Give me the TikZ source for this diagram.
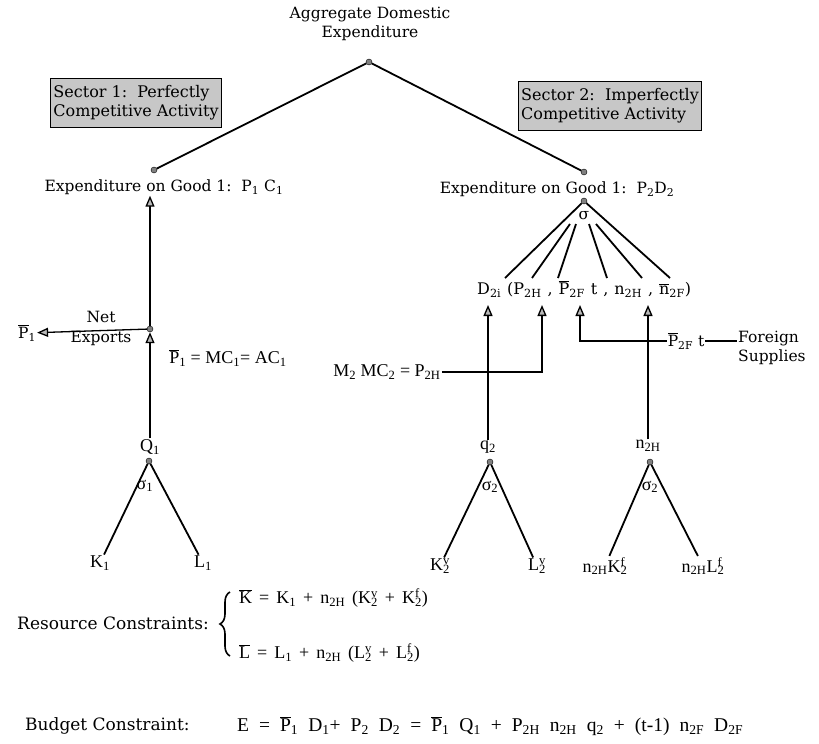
\documentclass[tikz,border=0pt]{standalone}
\usepackage{fontspec}
\setmainfont{DejaVu Serif}
\newfontfamily\narrowfont{Liberation Serif}
\usetikzlibrary{arrows.meta,decorations.pathreplacing}
\newcommand{\ob}[1]{$\overline{\hbox{#1}}$}
\newcommand{\sd}[1]{\textsubscript{#1}}
\newcommand{\su}[2]{\rlap{\textsuperscript{#2}}\textsubscript{#1}}
\tikzset{
    txt/.style={inner sep=1pt, font=\fontsize{15.5}{19}\selectfont},
    big/.style={inner sep=1pt, font=\fontsize{17}{20}\selectfont},
    eq/.style={inner sep=1pt, font=\narrowfont\fontsize{18}{21}\selectfont},
    wordgap/.style={execute at begin node={\spaceskip=#1\relax}},
    dot/.style={circle, draw, fill=gray, inner sep=0pt, minimum size=6pt},
    sector/.style={draw, line width=1.2pt, fill=black!22, align=left, inner xsep=3pt, inner ysep=7pt, font=\fontsize{16}{19}\selectfont},
    branch/.style={line width=1.8pt},
    link/.style={line width=1.3pt},
    tip/.style={link, -{Triangle[width=9pt,length=11pt,fill=gray!55]}},
    curly/.style={decorate, decoration={brace, amplitude=10pt}, line width=1.6pt},
}
\begin{document}
\begin{tikzpicture}[x=1pt,y=-1pt]
    \useasboundingbox (0,0) rectangle (819,744);
    \node [txt, align=center] (agg) at (370,24) {Aggregate Domestic\\Expenditure};
    \node [dot] (top) at (369,62) {};
    \node [sector] (sec1) at (136,103) {Sector 1:\ \ Perfectly\\Competitive Activity};
    \node [sector] (sec2) at (610,106) {Sector 2:\ \ Imperfectly\\Competitive Activity};
    \node [dot] (g1) at (154,170) {};
    \node [dot] (g2) at (584,172) {};
    \draw [branch] (top) -- (g1);
    \draw [branch] (top) -- (g2);
    \node [txt] (exp1) at (164,187) {Expenditure on Good 1:\ \ P\sd{1} C\sd{1}};
    \node [txt] (exp2) at (557,189) {Expenditure on Good 1:\ \ P\sd{2}D\sd{2}};
    \node [dot] (fan) at (584,201) {};
    \node [txt] (sig) at (584,216) {σ};
    \node [txt, wordgap=6pt, anchor=west, font=\fontsize{16}{19}\selectfont] (dem) at (476,289) {D\sd{2i} (P\sd{2H} , \ob{P}\sd{2F} t , n\sd{2H} , \ob{n}\sd{2F})};
    \coordinate (f1) at (505,278);
    \coordinate (f6) at (670,278);
    \draw [branch] (fan) -- (f1);
    \draw [branch] (fan) -- (f6);
    \foreach \i/\a/\b in {2/570/532, 3/576/558, 4/589/607, 5/596/642} {
        \coordinate (fs\i) at (\a,224);
        \coordinate (fe\i) at (\b,278);
        \draw [branch] (fs\i) -- (fe\i);
    }
    \node [eq] (q1) at (150,447) {Q\sd{1}};
    \node [dot] (t1) at (149,461) {};
    \node [eq] (s1) at (145,486) {σ\sd{1}};
    \node [eq] (k1) at (100,563) {K\sd{1}};
    \node [eq] (l1) at (203,563) {L\sd{1}};
    \draw [branch] (t1) -- (k1);
    \draw [branch] (t1) -- (l1);
    \node [eq] (q2) at (488,447) {q\sd{2}};
    \node [dot] (t2) at (490,462) {};
    \node [eq] (s2) at (490,487) {σ\sd{2}};
    \node [eq] (kv) at (440,566) {K\su{2}{v}};
    \node [eq] (lv) at (537,566) {L\su{2}{v}};
    \draw [branch] (t2) -- (kv);
    \draw [branch] (t2) -- (lv);
    \node [eq] (nh) at (648,446) {n\sd{2H}};
    \node [dot] (t3) at (650,462) {};
    \node [eq] (s3) at (650,487) {σ\sd{2}};
    \node [eq] (kf) at (605,566) {n\sd{2H}K\su{2}{f}};
    \node [eq] (lf) at (703,566) {n\sd{2H}L\su{2}{f}};
    \draw [branch] (t3) -- (kf);
    \draw [branch] (t3) -- (lf);
    \coordinate (a1) at (488,305);
    \coordinate (a2) at (542,305);
    \coordinate (a3) at (580,305);
    \coordinate (a4) at (648,305);
    \draw [tip] (q2) -- (a1);
    \draw [tip] (nh) -- (a4);
    \node [eq] (mc) at (387,372) {M\sd{2} MC\sd{2} = P\sd{2H}};
    \draw [tip] (mc) -| (a2);
    \node [txt] (pf) at (686,341) {\ob{P}\sd{2F} t};
    \draw [tip] (pf) -| (a3);
    \node [txt, align=left, anchor=north west] (fs) at (737,330) {Foreign\\Supplies};
    \draw [link] (pf) -- (pf -| fs.west);
    \node [dot] (nx) at (150,329) {};
    \draw [tip] (q1) -- (nx);
    \draw [tip] (nx) -- (nx |- exp1.south);
    \node [txt] (p1) at (27,333) {\ob{P}\sd{1}};
    \draw [tip] (nx) -- (p1);
    \node [txt] (net) at (101,317) {Net};
    \node [txt] (exps) at (101,338) {Exports};
    \node [eq] (pe) at (228,358) {\ob{P}\sd{1} = MC\sd{1}= AC\sd{1}};
    \node [big] (rc) at (113,623) {Resource Constraints:};
    \coordinate (bbot) at (230,656);
    \coordinate (btop) at (230,592);
    \draw [curly] (bbot) -- (btop);
    \node [eq, wordgap=7pt, anchor=west] (kb) at (238,598) {\ob{K} = K\sd{1} + n\sd{2H} (K\su{2}{v} + K\su{2}{f})};
    \node [eq, wordgap=7pt, anchor=west] (lb) at (238,653) {\ob{L} = L\sd{1} + n\sd{2H} (L\su{2}{v} + L\su{2}{f})};
    \node [big, anchor=west] (bc) at (24,726) {Budget Constraint:};
    \node [eq, wordgap=10pt, anchor=west, font=\narrowfont\fontsize{19.5}{22}\selectfont] (be) at (236,726) {E = \ob{P}\sd{1} D\sd{1}+ P\sd{2} D\sd{2} = \ob{P}\sd{1} Q\sd{1} + P\sd{2H} n\sd{2H} q\sd{2} + (t-1) n\sd{2F} D\sd{2F}};
\end{tikzpicture}
\end{document}
